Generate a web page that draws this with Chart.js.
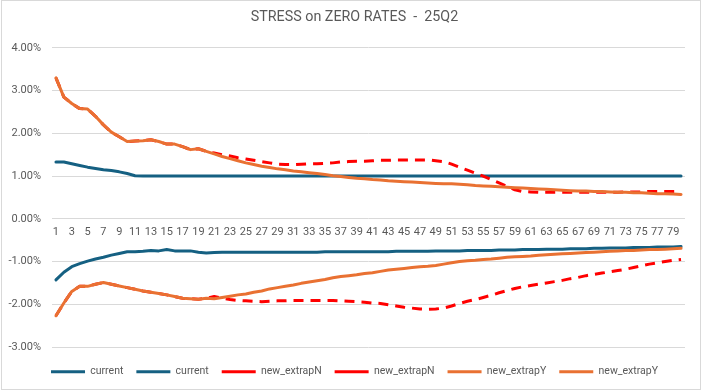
<!DOCTYPE html>
<html>
<head>
<meta charset="utf-8">
<script src="https://cdn.jsdelivr.net/npm/chart.js@4.4.1/dist/chart.umd.min.js"></script>
<style>
  body { margin: 0; background: #fff; }
  #wrap { position: relative; width: 702px; height: 391px; }
  #frame { position: absolute; left: 1px; top: 0; width: 700px; height: 390px; border: 1px solid #d9d9d9; box-sizing: border-box; pointer-events: none; }
</style>
</head>
<body>
<div id="wrap">
  <canvas id="stressChart" width="702" height="391"></canvas>
  <div id="frame"></div>
</div>
<script>
// categories (tenor buckets)
const tenors = [1, 2, 3, 4, 5, 6, 7, 8, 9, 10, 11, 12, 13, 14, 15, 16, 17, 18, 19, 20,
  21, 22, 23, 24, 25, 26, 27, 28, 29, 30, 31, 32, 33, 34, 35, 36, 37, 38, 39, 40,
  41, 42, 43, 44, 45, 46, 47, 48, 49, 50, 51, 52, 53, 54, 55, 56, 57, 58, 59, 60,
  61, 62, 63, 64, 65, 66, 67, 68, 69, 70, 71, 72, 73, 74, 75, 76, 77, 78, 79, 80];

// y tick values (%)
const yTicks = [-3, -2, -1, 0, 1, 2, 3, 4];

// series values in %
const currentUp = [1.33, 1.33, 1.29, 1.25, 1.21, 1.18, 1.15, 1.13, 1.10, 1.06,
  1.01, 1.00, 1.00, 1.00, 1.00, 1.00, 1.00, 1.00, 1.00, 1.00,
  1.00, 1.00, 1.00, 1.00, 1.00, 1.00, 1.00, 1.00, 1.00, 1.00,
  1.00, 1.00, 1.00, 1.00, 1.00, 1.00, 1.00, 1.00, 1.00, 1.00,
  1.00, 1.00, 1.00, 1.00, 1.00, 1.00, 1.00, 1.00, 1.00, 1.00,
  1.00, 1.00, 1.00, 1.00, 1.00, 1.00, 1.00, 1.00, 1.00, 1.00,
  1.00, 1.00, 1.00, 1.00, 1.00, 1.00, 1.00, 1.00, 1.00, 1.00,
  1.00, 1.00, 1.00, 1.00, 1.00, 1.00, 1.00, 1.00, 1.00, 1.00];

const currentDn = [-1.43, -1.25, -1.12, -1.05, -0.99, -0.94, -0.90, -0.85, -0.81, -0.77,
  -0.77, -0.76, -0.74, -0.75, -0.72, -0.75, -0.75, -0.75, -0.78, -0.80,
  -0.79, -0.78, -0.78, -0.78, -0.78, -0.78, -0.78, -0.78, -0.78, -0.78,
  -0.78, -0.78, -0.78, -0.78, -0.77, -0.77, -0.77, -0.77, -0.77, -0.77,
  -0.77, -0.77, -0.77, -0.76, -0.76, -0.76, -0.76, -0.76, -0.75, -0.75,
  -0.75, -0.75, -0.74, -0.74, -0.74, -0.74, -0.73, -0.73, -0.73, -0.72,
  -0.72, -0.72, -0.71, -0.71, -0.71, -0.70, -0.70, -0.70, -0.69, -0.69,
  -0.68, -0.68, -0.68, -0.67, -0.67, -0.67, -0.66, -0.66, -0.66, -0.65];

const extrapNUp = [3.30, 2.85, 2.70, 2.58, 2.57, 2.40, 2.20, 2.03, 1.92, 1.81,
  1.82, 1.83, 1.85, 1.81, 1.75, 1.75, 1.69, 1.62, 1.64, 1.58,
  1.54, 1.50, 1.47, 1.43, 1.40, 1.37, 1.34, 1.31, 1.28, 1.27,
  1.27, 1.28, 1.29, 1.29, 1.30, 1.31, 1.33, 1.34, 1.35, 1.35,
  1.36, 1.37, 1.37, 1.38, 1.38, 1.38, 1.38, 1.38, 1.36, 1.34,
  1.28, 1.21, 1.14, 1.07, 1.00, 0.92, 0.84, 0.76, 0.68, 0.64,
  0.63, 0.62, 0.62, 0.62, 0.62, 0.62, 0.62, 0.62, 0.62, 0.62,
  0.62, 0.62, 0.63, 0.63, 0.63, 0.64, 0.64, 0.64, 0.64, 0.64];

const extrapNDn = [-2.27, -1.97, -1.70, -1.58, -1.58, -1.53, -1.49, -1.53, -1.57, -1.61,
  -1.65, -1.69, -1.72, -1.75, -1.78, -1.82, -1.86, -1.87, -1.88, -1.86,
  -1.82, -1.86, -1.89, -1.91, -1.92, -1.93, -1.94, -1.93, -1.92, -1.92,
  -1.91, -1.91, -1.91, -1.91, -1.91, -1.91, -1.92, -1.93, -1.94, -1.95,
  -1.97, -1.98, -2.01, -2.04, -2.07, -2.09, -2.11, -2.12, -2.11, -2.09,
  -2.04, -1.98, -1.93, -1.89, -1.84, -1.79, -1.73, -1.68, -1.63, -1.59,
  -1.56, -1.53, -1.50, -1.47, -1.44, -1.40, -1.37, -1.33, -1.30, -1.27,
  -1.24, -1.21, -1.18, -1.14, -1.10, -1.06, -1.03, -1.00, -0.97, -0.95];

const extrapYUp = [3.30, 2.85, 2.70, 2.58, 2.57, 2.40, 2.20, 2.03, 1.92, 1.81,
  1.82, 1.83, 1.85, 1.81, 1.75, 1.75, 1.69, 1.62, 1.64, 1.58,
  1.52, 1.46, 1.41, 1.36, 1.31, 1.27, 1.23, 1.20, 1.17, 1.15,
  1.12, 1.10, 1.08, 1.06, 1.04, 1.01, 0.99, 0.97, 0.95, 0.94,
  0.92, 0.91, 0.89, 0.88, 0.87, 0.86, 0.85, 0.84, 0.83, 0.82,
  0.82, 0.81, 0.80, 0.78, 0.77, 0.76, 0.75, 0.74, 0.73, 0.72,
  0.71, 0.70, 0.69, 0.68, 0.67, 0.66, 0.65, 0.65, 0.64, 0.64,
  0.63, 0.62, 0.62, 0.61, 0.61, 0.60, 0.59, 0.59, 0.58, 0.57];

const extrapYDn = [-2.27, -1.97, -1.70, -1.58, -1.58, -1.53, -1.49, -1.53, -1.57, -1.61,
  -1.65, -1.69, -1.72, -1.75, -1.78, -1.82, -1.86, -1.87, -1.88, -1.86,
  -1.87, -1.84, -1.81, -1.78, -1.76, -1.72, -1.69, -1.64, -1.61, -1.58,
  -1.55, -1.51, -1.48, -1.45, -1.42, -1.38, -1.35, -1.33, -1.31, -1.28,
  -1.26, -1.23, -1.20, -1.18, -1.16, -1.14, -1.12, -1.11, -1.09, -1.06,
  -1.03, -1.00, -0.98, -0.97, -0.95, -0.94, -0.92, -0.90, -0.89, -0.88,
  -0.87, -0.85, -0.84, -0.83, -0.82, -0.81, -0.80, -0.79, -0.78, -0.77,
  -0.76, -0.75, -0.74, -0.74, -0.73, -0.72, -0.72, -0.71, -0.70, -0.69];

const BLUE = '#156082';
const RED = '#FF0000';
const ORANGE = '#E97132';
const GREY = '#595959';

function line(label, data, color, dashed, order) {
    return {
        label: label,
        data: data,
        borderColor: color,
        backgroundColor: color,
        borderWidth: 3,
        borderDash: dashed ? [10, 7] : [],
        borderCapStyle: dashed ? 'butt' : 'round',
        borderJoinStyle: 'round',
        pointRadius: 0,
        tension: 0,
        fill: false,
        order: order
    };
}

document.addEventListener('DOMContentLoaded', function() {
    var ctx = document.getElementById('stressChart').getContext('2d');
    Chart.defaults.font.family = 'Roboto, "Liberation Sans", sans-serif';
    Chart.defaults.color = GREY;

    new Chart(ctx, {
        type: 'line',
        data: {
            labels: tenors,
            datasets: [
                line('current', currentUp, BLUE, false, 3),
                line('current', currentDn, BLUE, false, 3),
                line('new_extrapN', extrapNUp, RED, true, 2),
                line('new_extrapN', extrapNDn, RED, true, 2),
                line('new_extrapY', extrapYUp, ORANGE, false, 1),
                line('new_extrapY', extrapYDn, ORANGE, false, 1)
            ]
        },
        options: {
            responsive: false,
            animation: false,
            layout: { padding: { left: 7, right: 0, top: 0, bottom: 4 } },
            plugins: {
                title: {
                    display: true,
                    text: 'STRESS on ZERO RATES  -  25Q2',
                    color: GREY,
                    font: { size: 14.3, weight: 'normal' },
                    padding: { top: 8.4, bottom: 22.4 }
                },
                legend: {
                    position: 'bottom',
                    labels: {
                        usePointStyle: true,
                        pointStyle: 'line',
                        pointStyleWidth: 34,
                        padding: 13,
                        color: GREY,
                        font: { size: 10.5 },
                        sort: function(a, b) { return a.datasetIndex - b.datasetIndex; }
                    }
                },
                tooltip: { enabled: false }
            },
            scales: {
                x: {
                    type: 'category',
                    position: { y: 0 },
                    offset: true,
                    grid: { display: false, drawTicks: false },
                    border: { display: false },
                    ticks: {
                        autoSkip: false,
                        maxRotation: 0,
                        padding: 7,
                        color: GREY,
                        font: { size: 11 },
                        callback: function(value, index) {
                            return index % 2 === 0 ? tenors[index] : '';
                        }
                    }
                },
                // spacer so the plot bottom sits above the legend
                xGap: {
                    type: 'category',
                    position: 'bottom',
                    grid: { display: false },
                    border: { display: false },
                    ticks: { display: false },
                    afterFit: function(scale) { scale.height = 6.5; }
                },
                y: {
                    min: yTicks[0],
                    max: yTicks[yTicks.length - 1],
                    afterBuildTicks: function(scale) {
                        scale.ticks = yTicks.map(function(v) { return { value: v }; });
                    },
                    afterFit: function(scale) { scale.width = 45; },
                    grid: { color: '#D9D9D9', lineWidth: 1, drawTicks: false },
                    border: { display: false },
                    ticks: {
                        padding: 11,
                        color: GREY,
                        font: { size: 11 },
                        callback: function(value) { return value.toFixed(2) + '%'; }
                    }
                },
                // spacer on the right edge of the plot
                yGap: {
                    type: 'linear',
                    position: 'right',
                    grid: { display: false },
                    border: { display: false },
                    ticks: { display: false },
                    afterFit: function(scale) { scale.width = 17; }
                }
            }
        }
    });
});
</script>
</body>
</html>
